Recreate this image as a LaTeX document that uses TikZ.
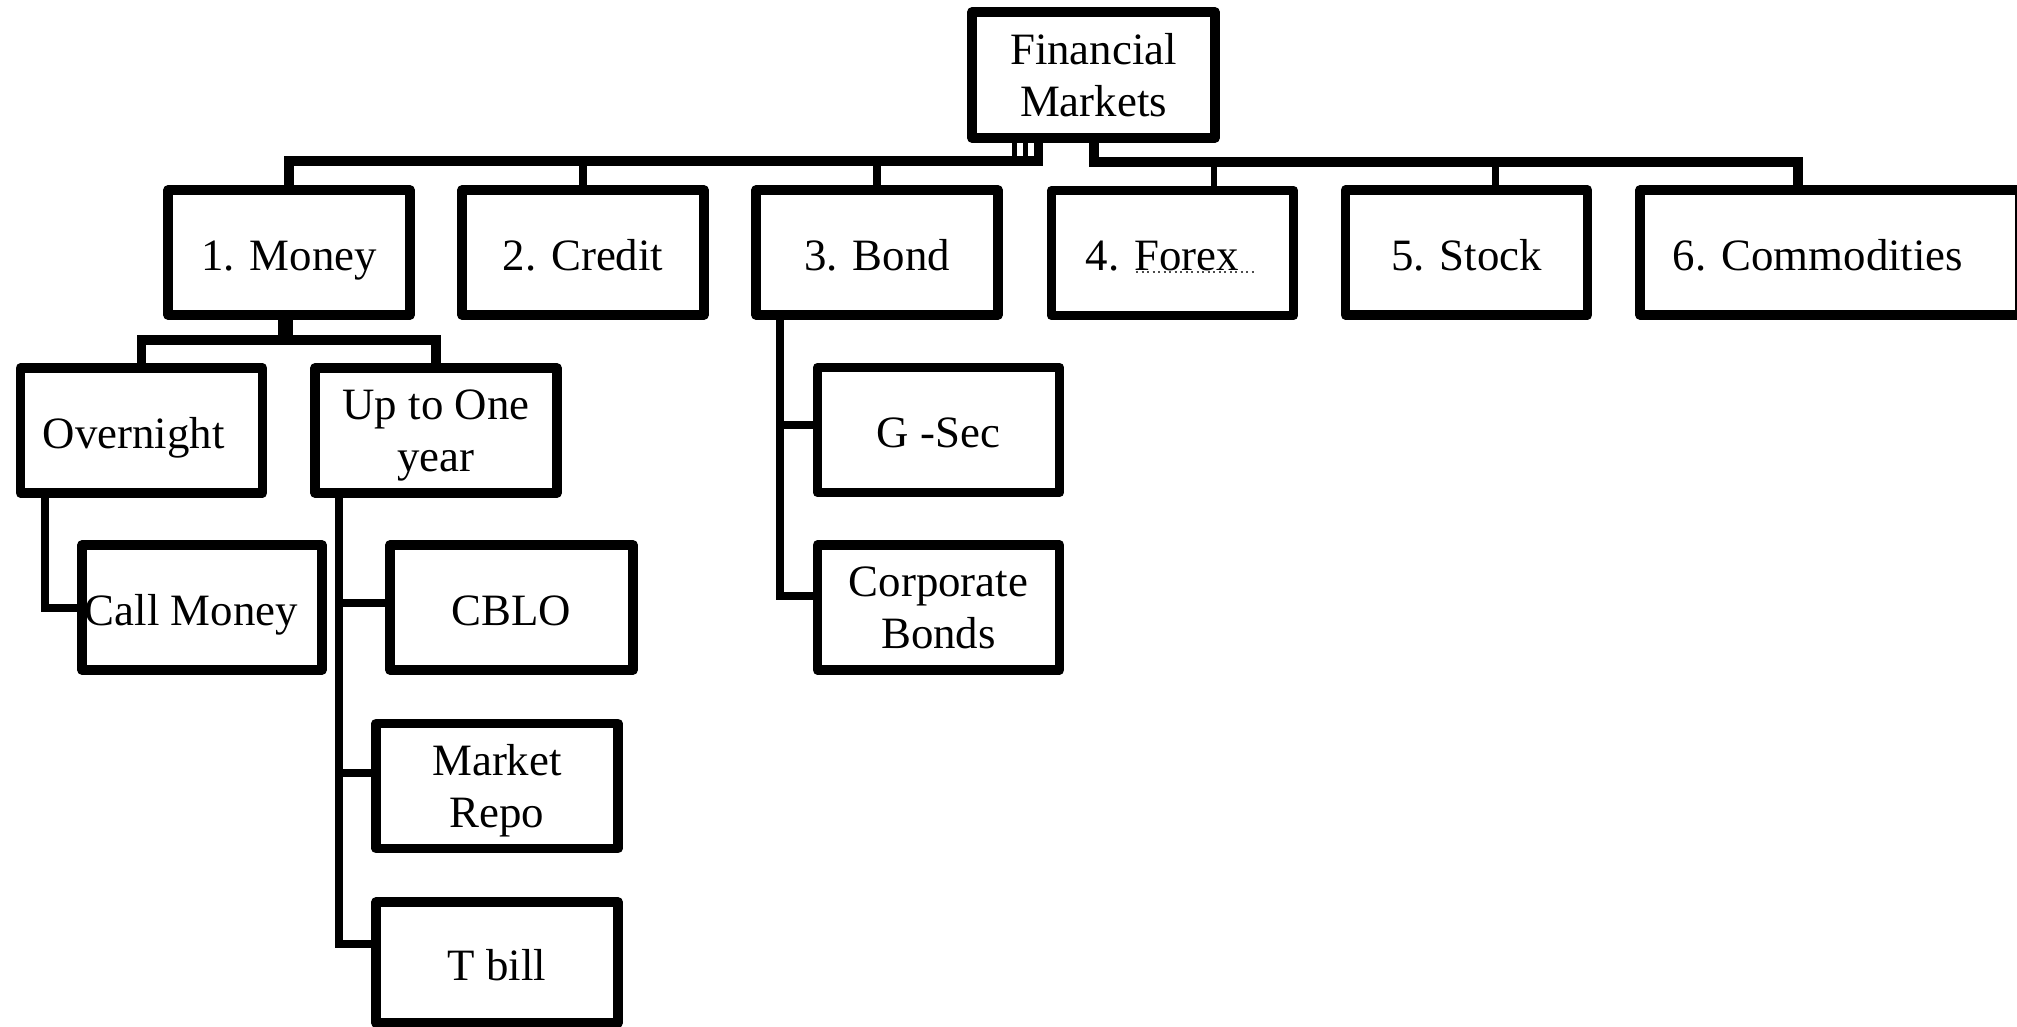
\documentclass[tikz,border=0pt]{standalone}
\usepackage{fontspec}
\setmainfont{Liberation Serif}
\newlength\pxu
\setlength\pxu{0.01cm}
\newcommand\boxfont{\fontsize{12.75pt}{14.8pt}\selectfont}
\begin{document}
\begin{tikzpicture}[x=0.01cm, y=-0.01cm,
  box/.style={draw, line width=9.5\pxu, line join=round, minimum width=242\pxu,
    minimum height=125\pxu, inner sep=0pt, align=center, font=\boxfont},
  oneline/.style={text height=12pt, text depth=2pt},
  twoline/.style={text depth=0pt},
  conn/.style={draw, line width=8\pxu},
  busline/.style={draw, line width=9.5\pxu},
  stub/.style={draw, line width=5\pxu}]
\useasboundingbox (0,0) rectangle (2017,1027);
\clip (0,0) rectangle (2017,1027);

% nodes
\node[box, minimum width=243\pxu, minimum height=126\pxu] (fin) at (1093.5,75) {Financial\\Markets};
\node[box, oneline] (money)  at (289,252.5)  {1. Money};
\node[box, oneline] (credit) at (583,252.5)  {2. Credit};
\node[box, oneline] (bond)   at (877,252.5)  {3. Bond};
\node[box, oneline] (forex)  at (1172.5,253) {4. Forex\hspace*{5.7pt}};
\node[box, oneline] (stock)  at (1466.5,252.5) {5. Stock};
\node[box, oneline, minimum width=380\pxu] (comm) at (1830,252.5) {6. Commodities\hspace*{6.8pt}};

\node[box, oneline] (over)  at (141.5,430.5) {Overnight\hspace*{4.5pt}};
\node[box, twoline] (upto)  at (436,430.5)   {Up to One\\year};
\node[box, oneline, minimum width=240\pxu] (call) at (202,607.5) {Call Money\hspace*{6pt}};
\node[box, oneline, minimum width=243\pxu] (cblo) at (511.5,607.5) {CBLO};
\node[box, twoline] (repo)  at (497,786)     {Market\\Repo};
\node[box, oneline, minimum height=121\pxu] (tbill) at (497,962.5) {T bill};
\node[box, oneline] (gsec)  at (938.5,430)   {G -Sec};
\node[box] (corp)  at (938.5,607.5) {Corporate\\Bonds};

% bus coordinates
\coordinate (jL) at (1043,161);
\coordinate (jR) at (1094,162);
\coordinate (jC) at (1798,162);
\coordinate (jM) at (285,340);

% top-level left bus
\draw[busline] (money.north) |- (jL);
\draw[conn] (credit.north) -- (credit.north |- jL);
\draw[conn] (bond.north) -- (bond.north |- jL);
\draw[stub] (fin.south -| 1014.5,0) -- (1014.5,161);
\draw[stub] (fin.south -| 1025.5,0) -- (1025.5,161);
\draw[line width=9\pxu] (fin.south -| 1038.5,0) -- (1038.5,161);

% top-level right bus
\draw[busline] (fin.south -| jR) -- (jR) -- (jC) -- (comm.north -| jC);
\draw[line width=6\pxu] (1214,162) -- (forex.north -| 1214,0);
\draw[line width=7\pxu] (1495.5,162) -- (stock.north -| 1495.5,0);

% money children
\draw[line width=15\pxu] (money.south -| jM) -- (jM);
\draw[busline] (over.north) |- (upto.north |- jM) -- (upto.north);
\draw[conn] (over.south -| 45,0) |- (call.west);
\draw[conn] (upto.south -| 339,0) |- (tbill.west |- 0,944);
\draw[conn] (339,603) -- (cblo.west |- 0,603);
\draw[conn] (339,773) -- (repo.west |- 0,773);

% bond children
\draw[conn] (bond.south -| 780,0) |- (corp.west |- 0,596);
\draw[conn] (780,425) -- (gsec.west |- 0,425);

% spell-check underline under Forex
\draw[densely dotted, line width=2\pxu, black!70] ([xshift=-36.5\pxu, yshift=-5.4pt]forex.center) -- ([xshift=82.5\pxu, yshift=-5.4pt]forex.center);
\end{tikzpicture}
\end{document}
